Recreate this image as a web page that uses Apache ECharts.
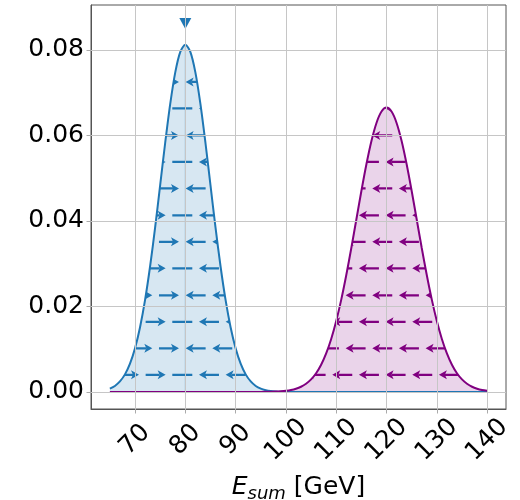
<!DOCTYPE html>
<html>
<head>
<meta charset="utf-8">
<script src="https://cdn.jsdelivr.net/npm/echarts@6/dist/echarts.min.js"></script>
<style>html,body{margin:0;padding:0;background:#fff}#c{width:520px;height:500px}</style>
</head>
<body>
<div id="c"></div>
<script>
// ---- data ----
var xs = [65,66,67,68,69,70,71,72,73,74,75,76,77,78,79,80,81,82,83,84,85,86,87,88,89,90,91,92,93,94,95,96,97,98,99,100,
          101,102,103,104,105,106,107,108,109,110,111,112,113,114,115,116,117,118,119,120,
          121,122,123,124,125,126,127,128,129,130,131,132,133,134,135,136,137,138,139,140];
var blueVals = [0.00076,0.00139,0.00244,0.00410,0.00660,0.01021,0.01514,0.02153,0.02939,0.03849,0.04835,0.05828,0.06737,0.07474,0.07953,0.08120,
  0.07953,0.07474,0.06737,0.05828,0.04835,0.03849,0.02939,0.02153,0.01514,0.01021,0.00660,0.00410,0.00244,0.00139,0.00076,0.00040,0.00020,0.00010,0.00004,0.00002,
  0,0,0,0,0,0,0,0,0,0,0,0,0,0,0,0,0,0,0,0,0,0,0,0,0,0,0,0,0,0,0,0,0,0,0,0,0,0,0,0];
var purpleVals = [0,0,0,0,0,0,0,0,0,0,0,0,0,0,0,0,0,0,0,0,0,0,0,0,0,0,0,0,0,0,0,
  0.00002,0.00004,0.00008,0.00015,0.00026,0.00044,0.00074,0.00120,0.00190,0.00292,0.00437,0.00636,0.00900,0.01239,0.01658,0.02159,0.02734,0.03367,0.04033,0.04699,0.05325,0.05869,0.06291,0.06558,0.06650,
  0.06558,0.06291,0.05869,0.05325,0.04699,0.04033,0.03367,0.02734,0.02159,0.01658,0.01239,0.00900,0.00636,0.00437,0.00292,0.00190,0.00120,0.00074,0.00044,0.00026];
var blueCenter = 80, purpleCenter = 120;
var blueMarker = [80, 0.0862];
var arrowRows = [0.0040,0.0102,0.0164,0.0226,0.0289,0.0351,0.0413,0.0476,0.0538,0.0600,0.0663,0.0725];
var colsEven = [63.5,68.8,74.1,79.4,84.7,90.0,95.3,100.6,105.9,111.2,116.5,121.8,127.1,132.4,137.7,143.0];
var colsOdd  = [60.85,66.15,71.45,76.75,82.05,87.35,92.65,97.95,103.25,108.55,113.85,119.15,124.45,129.75,135.05,140.35];
var xTicks = [70,80,90,100,110,120,130,140];
var yTicks = [0,0.02,0.04,0.06,0.08];

// ---- build ----
var C_BLUE = '#1f77b4', C_PURPLE = '#800080';
function pairs(v){ return xs.map(function(x,i){ return [x, v[i]]; }); }
function buildArrows(lo, hi, center, allLeft){
  var out = [];
  arrowRows.forEach(function(y, r){
    var cols = (r % 2 === 0) ? colsEven : colsOdd;
    cols.forEach(function(x){
      if (x < lo || x > hi) return;
      var d;
      if (allLeft) d = -1;
      else d = Math.abs(x - center) < 1 ? 0 : (x < center ? 1 : -1);
      out.push([x, y, d]);
    });
  });
  return out;
}
var blueArrows = buildArrows(60, 100, blueCenter, false);
var purpleArrows = buildArrows(100, 145, purpleCenter, true);

function arrowRenderer(vals, color){
  return function(params, api){
    var xc = api.value(0), y = api.value(1), d = api.value(2);
    var p = api.coord([xc, y]);
    var L = 20, hl = 8, hw = 4.5;
    var pts = xs.map(function(x,i){ return api.coord([x, vals[i]]); });
    pts.push(api.coord([xs[xs.length-1], 0]));
    pts.push(api.coord([xs[0], 0]));
    var children = [];
    if (d === 0) {
      children.push({type:'line', shape:{x1:p[0]-L/2, y1:p[1], x2:p[0]+L/2, y2:p[1]}, style:{stroke:color, lineWidth:2.2}});
    } else {
      var tip = p[0] + d*L/2, tail = p[0] - d*L/2, base = tip - d*hl;
      children.push({type:'line', shape:{x1:tail, y1:p[1], x2:base + d*2, y2:p[1]}, style:{stroke:color, lineWidth:2.2}});
      children.push({type:'polygon', shape:{points:[[tip,p[1]],[base,p[1]-hw],[base+d*2,p[1]],[base,p[1]+hw]]}, style:{fill:color}});
    }
    return {type:'group', children:children, clipPath:{type:'polygon', shape:{points:pts}}};
  };
}

var gridLines = [];
xTicks.forEach(function(v){ gridLines.push({xAxis:v}); });
yTicks.forEach(function(v){ gridLines.push({yAxis:v}); });

var FONT = 'DejaVu Sans';
var chart = echarts.init(document.getElementById('c'), null, {renderer:'canvas'});
chart.setOption({
  animation:false,
  grid:{left:91, top:5, right:14, bottom:91, containLabel:false, outerBoundsMode:'none',
        show:true, borderColor:'#555', borderWidth:1, backgroundColor:'transparent'},
  xAxis:{
    type:'value', min:61.25, max:143.75,
    name:'{e|E}{s|sum} [GeV]', nameLocation:'middle', nameGap:62,
    nameTextStyle:{fontFamily:FONT, fontSize:25, color:'#000',
      rich:{e:{fontFamily:FONT, fontSize:25, fontStyle:'italic', color:'#000'},
            s:{fontFamily:FONT, fontSize:18, fontStyle:'italic', color:'#000', padding:[14,0,0,0], verticalAlign:'bottom'}}},
    axisLine:{show:true, onZero:false, lineStyle:{color:'#555', width:1}},
    axisTick:{show:true, customValues:xTicks, length:4.5, lineStyle:{color:'#aaa'}},
    axisLabel:{customValues:xTicks, rotate:45, align:'center', verticalAlign:'middle', margin:31,
      fontFamily:FONT, fontSize:25, color:'#000'},
    splitLine:{show:false}
  },
  yAxis:{
    type:'value', min:-0.004, max:0.0905,
    axisLine:{show:true, lineStyle:{color:'#555', width:1}},
    axisTick:{show:true, customValues:yTicks, length:4.5, lineStyle:{color:'#aaa'}},
    axisLabel:{customValues:yTicks, margin:7, fontFamily:FONT, fontSize:25, color:'#000',
      formatter:function(v){ return v.toFixed(2); }},
    splitLine:{show:false}
  },
  series:[
    {type:'line', data:[], silent:true, z:0,
     markLine:{silent:true, symbol:'none', label:{show:false}, animation:false,
       lineStyle:{color:'#c6c6c6', width:1, type:'solid'}, data:gridLines}},
    {type:'line', data:pairs(blueVals), smooth:0.3, symbol:'none', z:2,
     lineStyle:{color:C_BLUE, width:2}, areaStyle:{color:'rgba(31,119,180,0.25)'}},
    {type:'line', data:[[blueCenter,0],[blueCenter,0.0812]], symbol:'none', z:2,
     lineStyle:{color:'rgba(31,119,180,0.5)', width:1}},
    {type:'custom', data:blueArrows, z:3, renderItem:arrowRenderer(blueVals, C_BLUE)},
    {type:'line', data:pairs(purpleVals), smooth:0.3, symbol:'none', z:2,
     lineStyle:{color:C_PURPLE, width:2}, areaStyle:{color:'rgba(128,0,128,0.24)'}},
    {type:'custom', data:purpleArrows, z:3, renderItem:arrowRenderer(purpleVals, C_PURPLE)},
    {type:'scatter', data:[blueMarker], symbol:'triangle', symbolRotate:180, symbolSize:[12,11], z:4,
     itemStyle:{color:C_BLUE, opacity:1}}
  ]
});
</script>
</body>
</html>
